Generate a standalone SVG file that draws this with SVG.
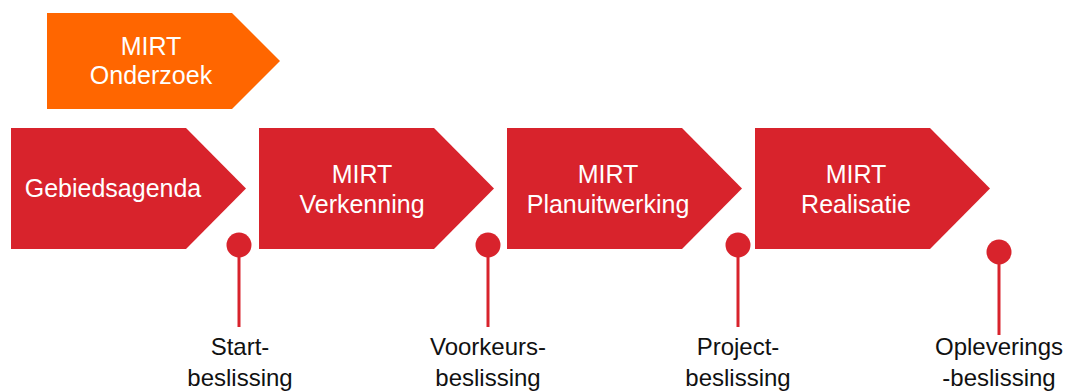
<svg xmlns="http://www.w3.org/2000/svg" width="1072" height="391" viewBox="0 0 1072 391">
<style>
.stage{fill:#D8232C}
.orange{fill:#FF6600}
.wt{fill:#FFFFFF;font-family:"Liberation Sans",Arial,sans-serif;font-size:25px;text-anchor:middle}
.bt{fill:#111111;font-family:"Liberation Sans",Arial,sans-serif;font-size:24px;text-anchor:middle}
.stem{stroke:#D8232C;stroke-width:3}
.dot{fill:#D8232C}
</style>
<rect width="1072" height="391" fill="#FFFFFF"/>
<g id="onderzoek">
<path class="orange" d="M47,13 L232,13 L280,61 L232,109 L47,109 Z"/>
<text class="wt" x="151" y="55">MIRT</text>
<text class="wt" x="151" y="84">Onderzoek</text>
</g>
<g id="gebiedsagenda">
<path class="stage" d="M11,128 L186,128 L246,188.5 L186,249 L11,249 Z"/>
<text class="wt" x="113" y="197">Gebiedsagenda</text>
</g>
<g id="verkenning">
<path class="stage" d="M259,128 L434,128 L494,188.5 L434,249 L259,249 Z"/>
<text class="wt" x="362" y="183">MIRT</text>
<text class="wt" x="362" y="213">Verkenning</text>
</g>
<g id="planuitwerking">
<path class="stage" d="M507,128 L682,128 L742,188.5 L682,249 L507,249 Z"/>
<text class="wt" x="608" y="183">MIRT</text>
<text class="wt" x="608" y="213">Planuitwerking</text>
</g>
<g id="realisatie">
<path class="stage" d="M755,128 L930,128 L990,188.5 L930,249 L755,249 Z"/>
<text class="wt" x="856" y="183">MIRT</text>
<text class="wt" x="856" y="213">Realisatie</text>
</g>
<g id="connectors">
<line class="stem" x1="239" y1="245" x2="239" y2="327"/>
<line class="stem" x1="488" y1="245" x2="488" y2="327"/>
<line class="stem" x1="738" y1="245" x2="738" y2="327"/>
<line class="stem" x1="999" y1="252" x2="999" y2="335"/>
</g>
<g id="startbeslissing">
<circle class="dot" cx="239" cy="245" r="12.5"/>
<text class="bt" x="240" y="355">Start-</text>
<text class="bt" x="240" y="386">beslissing</text>
</g>
<g id="voorkeursbeslissing">
<circle class="dot" cx="488" cy="245" r="12.5"/>
<text class="bt" x="488" y="355">Voorkeurs-</text>
<text class="bt" x="488" y="386">beslissing</text>
</g>
<g id="projectbeslissing">
<circle class="dot" cx="738" cy="245" r="12.5"/>
<text class="bt" x="738" y="355">Project-</text>
<text class="bt" x="738" y="386">beslissing</text>
</g>
<g id="opleveringsbeslissing">
<circle class="dot" cx="999" cy="252" r="12.5"/>
<text class="bt" x="999" y="355">Opleverings</text>
<text class="bt" x="999" y="386">-beslissing</text>
</g>
</svg>
